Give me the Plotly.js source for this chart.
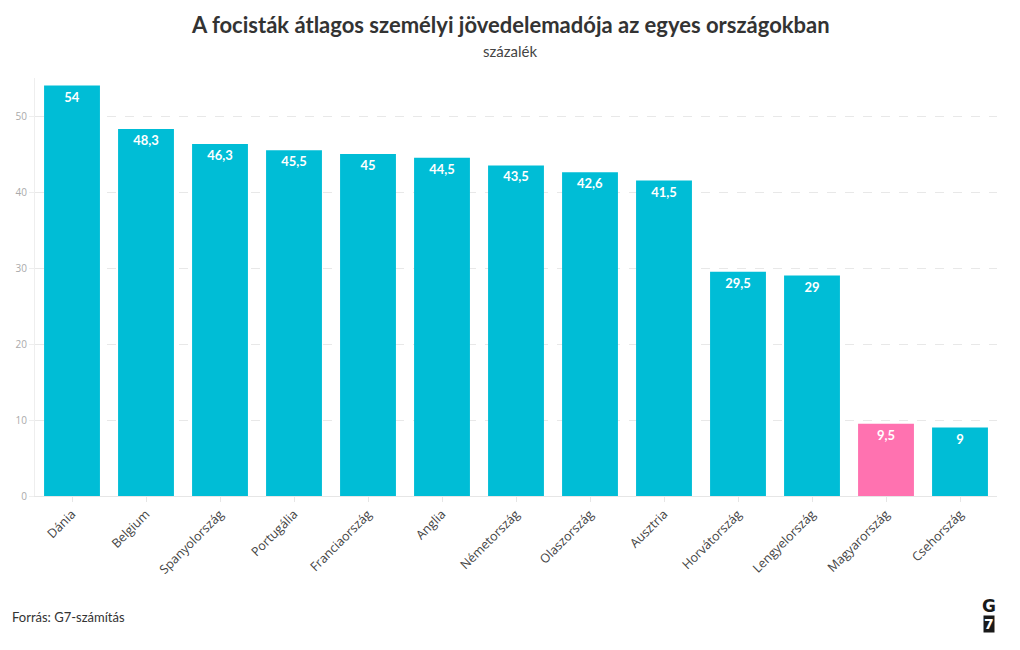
<!DOCTYPE html>
<html>
<head>
<meta charset="utf-8">
<script src="https://cdn.plot.ly/plotly-3.0.1.min.js"></script>
<style>html,body{margin:0;padding:0;background:#fff;}#chart{width:1020px;height:650px;}</style>
</head>
<body>
<div id="chart"></div>
<script>
var countries = ["Dánia","Belgium","Spanyolország","Portugália","Franciaország","Anglia","Németország","Olaszország","Ausztria","Horvátország","Lengyelország","Magyarország","Csehország"];
var values = [54, 48.3, 46.3, 45.5, 45, 44.5, 43.5, 42.6, 41.5, 29.5, 29, 9.5, 9];
var highlight = "Magyarország";
var yTicks = [0, 10, 20, 30, 40, 50];

var colors = countries.map(function(c){ return c === highlight ? "#ff72b0" : "#00bdd6"; });
var labels = values.map(function(v){ return String(v).replace(".", ","); });

var font = "Lato, 'Source Sans Pro', 'Open Sans', sans-serif";

var trace = {
  type: "bar",
  x: countries,
  y: values,
  marker: {color: colors},
  text: labels,
  textposition: "inside",
  insidetextanchor: "end",
  textangle: 0,
  textfont: {family: font, size: 13, color: "#ffffff", weight: 700},
  cliponaxis: false,
  hoverinfo: "none"
};

var layout = {
  width: 1020, height: 650,
  margin: {l: 35, r: 23, t: 78, b: 154},
  paper_bgcolor: "#fff", plot_bgcolor: "#fff",
  bargap: 0.245,
  showlegend: false,
  font: {family: font},
  xaxis: {
    tickangle: -45,
    tickfont: {family: "'Open Sans', sans-serif", size: 12.5, color: "#444"},
    showline: true, linecolor: "#e6e6e6", linewidth: 1,
    ticks: "outside", ticklen: 5, tickcolor: "#e6e6e6",
    showgrid: false, zeroline: false
  },
  yaxis: {
    range: [0, 55],
    tickvals: yTicks,
    tickfont: {family: "'Open Sans', sans-serif", size: 10, color: "#aaa"},
    showline: true, linecolor: "#eeeeee", linewidth: 1,
    ticks: "outside", ticklen: 5, tickcolor: "#eeeeee",
    showgrid: true, gridcolor: "#e8e8e8", griddash: "dash", gridwidth: 1,
    zeroline: false
  },
  annotations: [
    {text: "<b>A focisták átlagos személyi jövedelemadója az egyes országokban</b>", xref: "paper", yref: "paper", xanchor: "center", yanchor: "middle", showarrow: false,
     font: {family: font, size: 22, color: "#333"}},
    {text: "százalék", xref: "paper", yref: "paper", xanchor: "center", yanchor: "middle", showarrow: false,
     font: {family: font, size: 15, color: "#444"}},
    {text: "Forrás: G7-számítás", xref: "paper", yref: "paper", xanchor: "left", yanchor: "middle", showarrow: false,
     font: {family: font, size: 13, color: "#333"}},
    {text: "<b>G</b>", xref: "paper", yref: "paper", xanchor: "center", yanchor: "middle", showarrow: false,
     font: {family: "'DejaVu Sans', sans-serif", size: 17, color: "#1a1a1a"}},
    {text: "<b>7</b>", xref: "paper", yref: "paper", xanchor: "center", yanchor: "middle", showarrow: false,
     bgcolor: "#1a1a1a", borderpad: 0,
     font: {family: "'DejaVu Sans', sans-serif", size: 14, color: "#fff"}}
  ]
};

var plotH = 650 - 78 - 154, plotW = 1020 - 35 - 23;
function py(pixY){ return (650 - 154 - pixY) / plotH; }
function px(pixX){ return (pixX - 35) / plotW; }
layout.annotations[0].y = py(25); layout.annotations[0].x = px(510);
layout.annotations[1].y = py(51); layout.annotations[1].x = px(510);
layout.annotations[2].y = py(617); layout.annotations[2].x = px(10);
layout.annotations[3].y = py(606); layout.annotations[3].x = px(989);
layout.annotations[4].y = py(624); layout.annotations[4].x = px(989);

Plotly.newPlot("chart", [trace], layout, {displayModeBar: false, staticPlot: true});
</script>
</body>
</html>
